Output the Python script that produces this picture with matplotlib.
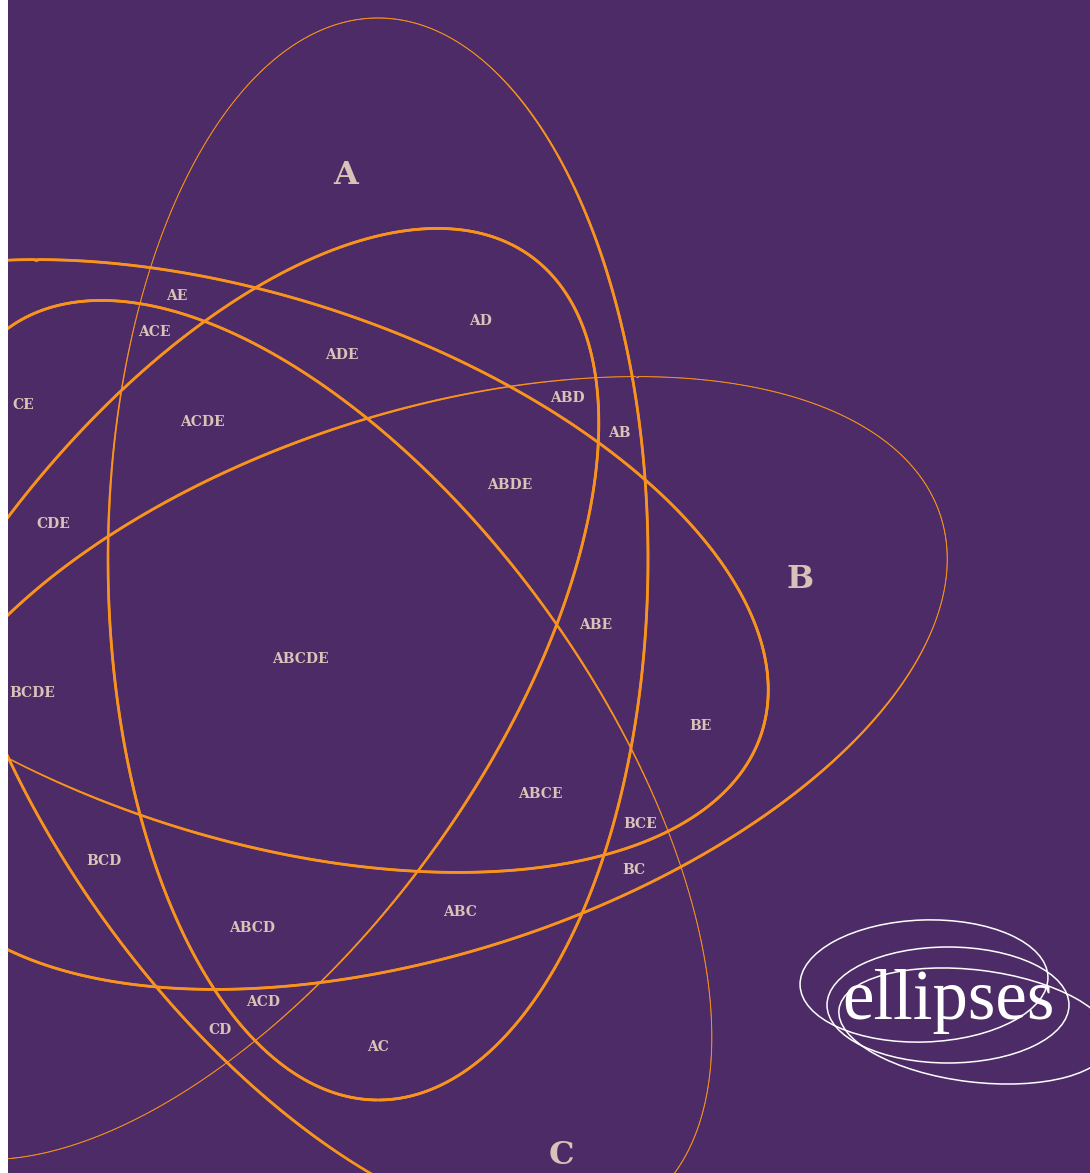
import numpy as np
import matplotlib
matplotlib.use("Agg")
import matplotlib.pyplot as plt
from matplotlib.collections import LineCollection
from matplotlib.patches import Ellipse

W, H = 1090, 1173
BG = "#4d2b66"
ORANGE = "#f7931e"
INK = "#d9c3b9"

# five congruent ellipses (pixel coords, y down), tip angle in degrees (y up)
set_names = ["A", "B", "C", "D", "E"]
centers_x = [378, 426, 326, 213, 247]
centers_y = [559, 683, 766, 694, 566]
tip_angles = [90, 18, -54, -126, 162]
semi_major = 541
semi_minor = 270

set_labels = ["A", "B", "C"]
set_label_x = [346, 800, 561]
set_label_y = [175, 580, 1155]

regions = ["AE", "ACE", "AD", "ADE", "CE", "ABD", "AB", "ACDE", "ABDE", "CDE",
           "ABE", "ABCDE", "BCDE", "BE", "ABCE", "BCE", "BC", "BCD", "ABC",
           "ABCD", "ACD", "CD", "AC"]
region_x = [177, 154, 481, 342, 23, 567, 619, 202, 510, 53,
            596, 300, 32, 700, 540, 640, 634, 104, 460,
            252, 263, 220, 378]
region_y = [296, 332, 321, 355, 405, 398, 433, 422, 485, 524,
            625, 659, 693, 726, 794, 824, 870, 861, 912,
            928, 1002, 1030, 1047]

# logo ellipses: centre x, centre y, width, height, angle
logo_x = [924, 948, 975]
logo_y = [981, 1005, 1026]
logo_w = [248, 242, 274]
logo_h = [122, 116, 112]
logo_ang = [-2, 0, 7]


def stroke(t):
    # thin near the tip side, thick elsewhere
    d = (np.degrees(t) - 20 + 180) % 360 - 180
    s = np.clip((np.abs(d) - 38) / 42, 0, 1)
    s = s * s * (3 - 2 * s)
    return 0.7 + 1.3 * s


fig = plt.figure(figsize=(W / 100, H / 100), dpi=100)
fig.patch.set_facecolor("white")
ax = fig.add_axes([8 / W, 0, 1 - 8 / W, 1])
ax.set_xlim(8, W)
ax.set_ylim(H, 0)
ax.set_facecolor(BG)
for sp in ax.spines.values():
    sp.set_visible(False)
ax.set_xticks([])
ax.set_yticks([])

t = np.linspace(0, 2 * np.pi, 1800)
for cx, cy, ang in zip(centers_x, centers_y, tip_angles):
    th = np.radians(ang)
    ux, uy = np.cos(th), -np.sin(th)
    wx, wy = -np.sin(th), -np.cos(th)
    x = cx + semi_major * np.cos(t) * ux + semi_minor * np.sin(t) * wx
    y = cy + semi_major * np.cos(t) * uy + semi_minor * np.sin(t) * wy
    pts = np.column_stack([x, y])
    segs = np.stack([pts[:-1], pts[1:]], axis=1)
    tm = 0.5 * (t[:-1] + t[1:])
    lc = LineCollection(segs, colors=ORANGE, linewidths=stroke(tm),
                        capstyle="round", joinstyle="round")
    ax.add_collection(lc)

for name, x, y in zip(regions, region_x, region_y):
    ax.text(x, y, name, ha="center", va="center", color=INK,
            fontsize=10, fontweight="bold", family="DejaVu Serif")

for name, x, y in zip(set_labels, set_label_x, set_label_y):
    ax.text(x, y, name, ha="center", va="center", color=INK,
            fontsize=23, fontweight="bold", family="DejaVu Serif")

for x, y, w, h, a in zip(logo_x, logo_y, logo_w, logo_h, logo_ang):
    ax.add_patch(Ellipse((x, y), w, h, angle=a, fill=False,
                         edgecolor="white", lw=1.1))

ax.text(948, 1019, "ellipses", ha="center", va="baseline", color="white",
        fontsize=51, family="Liberation Serif")

fig.savefig("out.png", dpi=100, facecolor=fig.get_facecolor())
